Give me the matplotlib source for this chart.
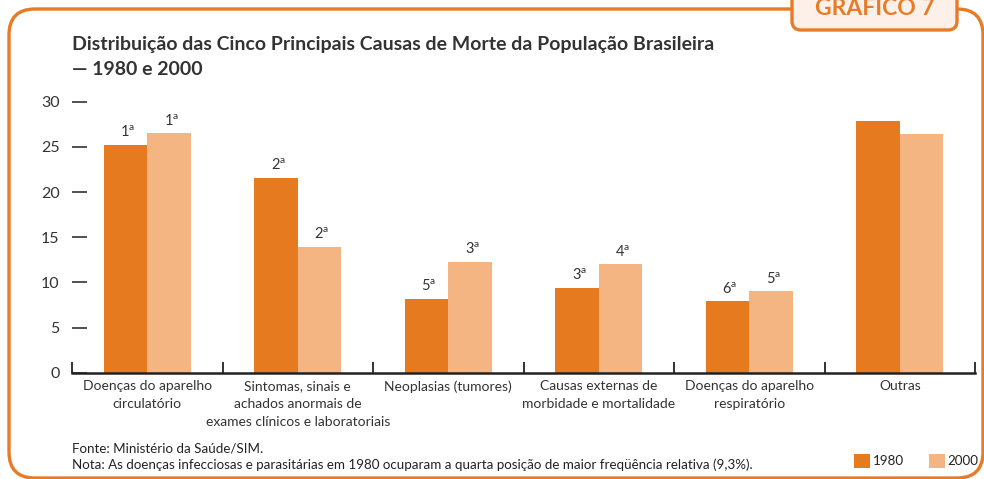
import matplotlib
matplotlib.use('Agg')
import matplotlib.pyplot as plt
from matplotlib.patches import FancyBboxPatch
import numpy as np

# ---- data ----
categories = ["Doenças do aparelho\ncirculatório",
              "Sintomas, sinais e\nachados anormais de\nexames clínicos e laboratoriais",
              "Neoplasias (tumores)",
              "Causas externas de\nmorbidade e mortalidade",
              "Doenças do aparelho\nrespiratório",
              "Outras"]
values_1980 = [25.2, 21.6, 8.2, 9.4, 7.9, 27.9]
values_2000 = [26.5, 13.9, 12.3, 12.0, 9.0, 26.4]
rank_1980 = ["1", "2", "5", "3", "6", ""]
rank_2000 = ["1", "2", "3", "4", "5", ""]
series_names = ["1980", "2000"]
yticks = [0, 5, 10, 15, 20, 25, 30]
title_line1 = "Distribuição das Cinco Principais Causas de Morte da População Brasileira"
title_line2 = "— 1980 e 2000"
source = "Fonte: Ministério da Saúde/SIM."
note = "Nota: As doenças infecciosas e parasitárias em 1980 ocuparam a quarta posição de maior freqüência relativa (9,3%)."
tab_text = "GRÁFICO 7"

# ---- style ----
BODY = ['Lato', 'DejaVu Sans']
plt.rcParams['font.family'] = BODY
plt.rcParams['mathtext.fontset'] = 'custom'
plt.rcParams['mathtext.rm'] = 'Lato'
C1980 = '#E67A1F'
C2000 = '#F4B583'
ORANGE = '#E87B25'
TXT = '#333333'

W, H = 984, 479
fig = plt.figure(figsize=(W / 100, H / 100), dpi=100)

# background overlay in pixel coordinates
bg = fig.add_axes([0, 0, 1, 1], zorder=-1)
bg.set_xlim(0, W)
bg.set_ylim(H, 0)
bg.axis('off')
frame = FancyBboxPatch((9, 9), 974, 469, boxstyle="round,pad=0,rounding_size=26",
                       fc='white', ec=ORANGE, lw=2.4)
bg.add_patch(frame)
tab = FancyBboxPatch((792, -20), 165, 50, boxstyle="round,pad=0,rounding_size=9",
                     fc='#FDF0E8', ec=ORANGE, lw=2.4)
bg.add_patch(tab)
bg.text(874.5, 15, tab_text, ha='center', va='baseline', color=ORANGE,
        fontsize=16.5, fontweight='bold')
bg.text(72, 50, title_line1, ha='left', va='baseline', color=TXT, fontsize=14,
        fontweight='bold')
bg.text(72, 75, title_line2, ha='left', va='baseline', color=TXT, fontsize=14,
        fontweight='bold')
bg.text(72, 452.5, source, ha='left', va='baseline', color='#222222', fontsize=9.6)
bg.text(72, 469, note, ha='left', va='baseline', color='#222222', fontsize=9.6)

# main axes
left, right = 72 / W, 975 / W
bottom, top = 1 - 372.7 / H, 1 - 101.7 / H
ax = fig.add_axes([left, bottom, right - left, top - bottom])
x = np.arange(len(categories))
bw = 0.289
b1 = ax.bar(x - bw / 2, values_1980, bw, color=C1980, label=series_names[0], zorder=2)
b2 = ax.bar(x + bw / 2, values_2000, bw, color=C2000, label=series_names[1], zorder=2)

for bars, ranks in ((b1, rank_1980), (b2, rank_2000)):
    for rect, r in zip(bars, ranks):
        if not r:
            continue
        ax.annotate(r + r"$^{\mathrm{a}}$", (rect.get_x() + rect.get_width() / 2, rect.get_height()),
                    xytext=(1.5, 5.5), textcoords='offset points', ha='center', va='baseline',
                    fontsize=10.5, color=TXT, annotation_clip=False)

ax.set_xlim(-0.5, len(categories) - 0.5)
ax.set_ylim(0, 30)
ax.set_yticks(yticks)
ax.set_yticklabels([str(t) for t in yticks])
ax.set_xticks(x)
ax.set_xticklabels(categories)
ax.set_xticks(np.arange(-0.5, len(categories)), minor=True)
for s in ('left', 'top', 'right'):
    ax.spines[s].set_visible(False)
ax.spines['bottom'].set_linewidth(1.8)
ax.spines['bottom'].set_color('#222222')
ax.tick_params(axis='y', direction='in', length=11, width=1.1, color='#222222',
               labelsize=11.5, labelcolor=TXT, pad=9)
ax.tick_params(axis='x', which='major', length=0, labelsize=10, labelcolor=TXT, pad=5.5)
ax.tick_params(axis='x', which='minor', direction='in', length=8, width=1.3, color='#222222')
for lab in ax.get_xticklabels():
    lab.set_linespacing(1.6)
ax.patch.set_alpha(0)

leg = fig.legend(handles=[b1, b2], labels=series_names, loc='lower left',
                 bbox_to_anchor=(854 / W, 1 - 467.5 / H), ncol=2, frameon=False,
                 fontsize=9.6, handlelength=1.2, handleheight=1.2, handletextpad=0.2,
                 columnspacing=1.9, borderpad=0, borderaxespad=0)
for t in leg.get_texts():
    t.set_color('#222222')

fig.savefig('out.png', dpi=100)
